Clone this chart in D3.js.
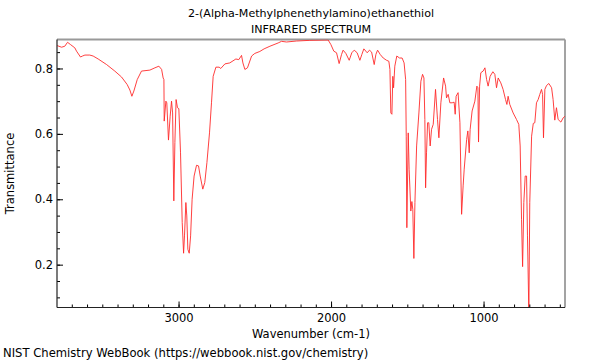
<!DOCTYPE html>
<html>
<head>
<meta charset="utf-8">
<script src="https://cdn.jsdelivr.net/npm/d3@7"></script>
<style>
  html, body { margin: 0; padding: 0; background: #fff; }
  svg { display: block; font-family: "DejaVu Sans", sans-serif; }
</style>
</head>
<body>
<svg id="chart" width="600" height="360"></svg>
<script>
const titleLines = ["2-(Alpha-Methylphenethylamino)ethanethiol", "INFRARED SPECTRUM"];
const xLabel = "Wavenumber (cm-1)";
const yLabel = "Transmittance";
const footer = "NIST Chemistry WebBook (https://webbook.nist.gov/chemistry)";
const xTickValues = [3000, 2000, 1000];
const yTickValues = [0.2, 0.4, 0.6, 0.8];
const xDomain = [3797, 466];
const yDomain = [0.069, 0.8886];

const wavenumbers = [
  3796,3767,3746,3728,3708,3680,3669,3643,3630,3614,3582,3560,3527,3472,3418,3374,3337,3319,3306,3293,
  3271,3243,3188,3155,3129,3111,3101,3096,3094,3083,3077,3066,3055,3046,3039,3031,3024,3016,3007,2998,
  2987,2976,2967,2961,2952,2946,2939,2930,2921,2911,2898,2882,2869,2858,2841,2828,2814,2797,2784,2773,
  2755,2734,2723,2696,2664,2624,2605,2587,2578,2565,2548,2521,2500,2467,2439,2401,2347,2325,2292,2226,
  2139,2019,2001,1982,1964,1947,1931,1921,1903,1881,1864,1848,1829,1811,1798,1785,1772,1763,1748,1734,
  1717,1706,1695,1678,1658,1636,1621,1614,1608,1601,1595,1590,1582,1569,1551,1534,1521,1511,1507,1503,
  1494,1488,1477,1470,1464,1457,1450,1439,1424,1411,1400,1391,1385,1380,1374,1367,1359,1350,1341,1330,
  1315,1302,1293,1280,1262,1249,1243,1232,1221,1206,1193,1186,1180,1167,1155,1144,1134,1127,1111,1103,
  1094,1088,1075,1057,1044,1037,1033,1026,1018,1003,991,980,970,957,939,926,915,904,887,872,
  856,847,839,828,806,784,769,760,751,744,736,727,718,712,703,697,685,674,664,653,
  642,631,620,613,607,598,587,572,554,544,533,522,511,493,478,467
];
const transmittance = [
  0.870,0.865,0.868,0.880,0.873,0.863,0.853,0.835,0.838,0.841,0.841,0.838,0.829,0.812,0.792,0.774,0.751,0.734,0.715,0.731,
  0.766,0.792,0.795,0.802,0.807,0.797,0.771,0.766,0.639,0.700,0.695,0.581,0.654,0.700,0.664,0.395,0.573,0.705,0.680,0.677,
  0.542,0.329,0.235,0.288,0.390,0.349,0.247,0.235,0.288,0.400,0.471,0.504,0.502,0.471,0.431,0.451,0.512,0.603,0.695,0.776,
  0.804,0.804,0.800,0.814,0.817,0.829,0.827,0.840,0.817,0.797,0.802,0.838,0.846,0.852,0.860,0.868,0.878,0.883,0.881,0.884,
  0.886,0.887,0.873,0.853,0.848,0.815,0.843,0.856,0.846,0.825,0.848,0.856,0.848,0.825,0.843,0.860,0.853,0.848,0.856,0.850,
  0.812,0.843,0.856,0.843,0.832,0.825,0.822,0.797,0.664,0.660,0.776,0.741,0.807,0.838,0.832,0.832,0.817,0.766,0.593,0.313,
  0.603,0.492,0.364,0.393,0.369,0.219,0.390,0.563,0.664,0.761,0.782,0.771,0.644,0.435,0.542,0.634,0.634,0.563,0.614,0.629,
  0.736,0.644,0.588,0.695,0.771,0.746,0.710,0.721,0.695,0.695,0.697,0.660,0.715,0.726,0.634,0.354,0.441,0.492,0.583,0.609,
  0.542,0.614,0.670,0.700,0.746,0.741,0.575,0.746,0.787,0.792,0.802,0.766,0.746,0.776,0.790,0.782,0.741,0.771,0.756,0.736,
  0.705,0.690,0.715,0.690,0.664,0.644,0.629,0.563,0.339,0.194,0.390,0.471,0.471,0.288,0.050,0.390,0.593,0.632,0.634,0.695,
  0.705,0.721,0.736,0.721,0.588,0.736,0.748,0.754,0.741,0.705,0.642,0.680,0.644,0.636,0.649,0.654
];

const pLeft = 57, pRight = 565, pTop = 39.5, pBottom = 307.5;
const svg = d3.select("#chart");
const x = d3.scaleLinear().domain(xDomain).range([pLeft, pRight]);
const y = d3.scaleLinear().domain(yDomain).range([pBottom, pTop]);

svg.append("defs").append("clipPath").attr("id", "clip")
  .append("rect").attr("x", pLeft).attr("y", pTop).attr("width", pRight - pLeft).attr("height", pBottom - pTop);

// frame: top/right gray
svg.append("line").attr("x1", pLeft).attr("x2", pRight).attr("y1", pTop).attr("y2", pTop)
  .attr("stroke", "#999").attr("stroke-width", 1.8);
svg.append("line").attr("x1", pRight).attr("x2", pRight).attr("y1", pTop).attr("y2", pBottom)
  .attr("stroke", "#999").attr("stroke-width", 1.8);

// spectrum
const pts = wavenumbers.map((w, i) => [w, transmittance[i]]);
svg.append("path").datum(pts)
  .attr("clip-path", "url(#clip)")
  .attr("fill", "none").attr("stroke", "#ff2a2a").attr("stroke-width", 0.9)
  .attr("stroke-linejoin", "round")
  .attr("d", d3.line().x(d => x(d[0])).y(d => y(d[1])));

// x axis
const xMinor = d3.range(500, 3800, 100).filter(v => v >= xDomain[1] && v <= xDomain[0]);
const xAxisG = svg.append("g").attr("transform", `translate(0,${pBottom})`);
xAxisG.call(d3.axisBottom(x).tickValues(xMinor).tickSize(-3).tickFormat(""))
  .call(g => g.select(".domain").remove());
xAxisG.append("g").call(d3.axisBottom(x).tickValues(xTickValues).tickSize(-6).tickPadding(6.5).tickFormat(d3.format("d")))
  .call(g => g.select(".domain").remove())
  .call(g => g.selectAll("text").attr("font-size", 11.5).attr("font-family", "DejaVu Sans").attr("fill", "#000"));
svg.append("line").attr("x1", pLeft).attr("x2", pRight).attr("y1", pBottom).attr("y2", pBottom)
  .attr("stroke", "#222").attr("stroke-width", 1.2);

// y axis
const yMinor = d3.range(0.1, 0.9, 0.05).map(v => +v.toFixed(2)).filter(v => v >= yDomain[0] && v <= yDomain[1]);
const yAxisG = svg.append("g").attr("transform", `translate(${pLeft},0)`);
yAxisG.call(d3.axisLeft(y).tickValues(yMinor).tickSize(-3).tickFormat(""))
  .call(g => g.select(".domain").remove());
yAxisG.append("g").call(d3.axisLeft(y).tickValues(yTickValues).tickSize(-6).tickPadding(4).tickFormat(d3.format(".1f")))
  .call(g => g.select(".domain").remove())
  .call(g => g.selectAll("text").attr("font-size", 11.5).attr("font-family", "DejaVu Sans").attr("fill", "#000"));
svg.append("line").attr("x1", pLeft).attr("x2", pLeft).attr("y1", pTop).attr("y2", pBottom)
  .attr("stroke", "#222").attr("stroke-width", 1.2);

// titles and labels
svg.selectAll(".title").data(titleLines).enter().append("text")
  .attr("x", 311).attr("y", (d, i) => 17 + i * 16)
  .attr("text-anchor", "middle").attr("font-size", 11.1).attr("fill", "#000").text(d => d);
svg.append("text").attr("x", 311).attr("y", 337.5).attr("text-anchor", "middle")
  .attr("font-size", 11.5).attr("fill", "#000").text(xLabel);
svg.append("text").attr("transform", `translate(14,${(pTop + pBottom) / 2}) rotate(-90)`)
  .attr("text-anchor", "middle").attr("font-size", 11.5).attr("fill", "#000").text(yLabel);
svg.append("text").attr("x", 3).attr("y", 357).attr("font-size", 11.6).attr("fill", "#000").text(footer);
</script>
</body>
</html>
